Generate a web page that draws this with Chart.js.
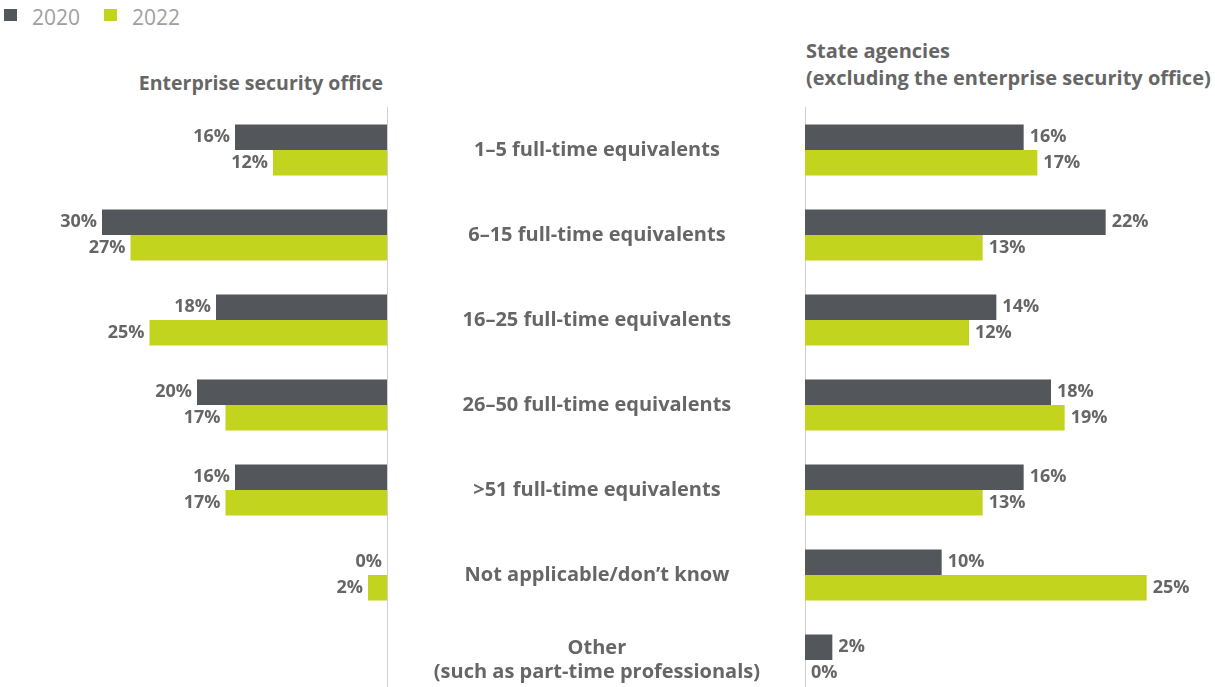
<!DOCTYPE html>
<html>
<head>
<meta charset="utf-8">
<script src="https://cdn.jsdelivr.net/npm/chart.js@4"></script>
<style>
  body { margin: 0; background: #fff; overflow: hidden; font-family: "Open Sans", sans-serif; }
  #wrap { position: relative; width: 1215px; height: 687px; overflow: hidden; }
  .box { position: absolute; }
  .legend { position: absolute; top: 2px; left: 4px; font-size: 21px; line-height: 30px; color: #a0a0a0; display: flex; gap: 24px; }
  .legend span { display: inline-flex; align-items: center; }
  .legend i { display: inline-block; width: 13px; height: 12px; margin-right: 15px; margin-top: -4px; }
  .title { position: absolute; font-weight: 700; font-size: 19.5px; color: #666; line-height: 23px; }
</style>
</head>
<body>
<div id="wrap">
  <div class="legend">
    <span><i style="background:#53565a"></i>2020</span>
    <span><i style="background:#c3d41e"></i>2022</span>
  </div>
  <div class="title" style="right:832px;top:71px;text-align:right;">Enterprise security office</div>
  <div class="title" style="left:806px;top:37px;font-size:20px;line-height:27px;">State agencies<br>(excluding the enterprise security office)</div>
  <div class="box" style="left:0;top:0;width:390px;height:710px;"><canvas id="oficina"></canvas></div>
  <div class="box" style="left:390px;top:0;width:825px;height:710px;"><canvas id="agencias"></canvas></div>
</div>
<script>
/* ===================== DATOS ===================== */
const categorias = [
  "1–5 full-time equivalents",
  "6–15 full-time equivalents",
  "16–25 full-time equivalents",
  "26–50 full-time equivalents",
  ">51 full-time equivalents",
  "Not applicable/don’t know",
  ["Other", "(such as part-time professionals)"],
];
const oficina2020 = [16, 30, 18, 20, 16, 0, null];
const oficina2022 = [12, 27, 25, 17, 17, 2, null];
const agencias2020 = [16, 22, 14, 18, 16, 10, 2];
const agencias2022 = [17, 13, 12, 19, 13, 25, 0];

const GRIS = "#53565a";
const VERDE = "#c3d41e";
const TEXTO = "#666666";
const fuente = { family: "'Open Sans', sans-serif", size: 18 };

/* ===================== ETIQUETAS ===================== */
// dibuja el % al final de cada barra (sin plugin externo)
const etiquetas = {
  id: "etiquetas",
  afterDatasetsDraw(chart, args, opts) {
    const ctx = chart.ctx;
    ctx.save();
    ctx.font = `bold ${fuente.size}px ${fuente.family}`;
    ctx.fillStyle = TEXTO;
    ctx.textBaseline = "middle";
    chart.data.datasets.forEach((ds, i) => {
      chart.getDatasetMeta(i).data.forEach((el, j) => {
        const v = ds.data[j];
        if (v === null || v === undefined) return;
        if (opts.lado === "izq") {
          ctx.textAlign = "right";
          ctx.fillText(v + "%", el.x - 5, el.y);
        } else {
          ctx.textAlign = "left";
          ctx.fillText(v + "%", el.x + 6, el.y);
        }
      });
    });
    ctx.restore();
  },
};

function datasets(a, b) {
  return [
    { label: "2020", data: a, backgroundColor: GRIS, categoryPercentage: 0.6, barPercentage: 1 },
    { label: "2022", data: b, backgroundColor: VERDE, categoryPercentage: 0.6, barPercentage: 1 },
  ];
}

// quita el relleno que el eje agrega por las etiquetas
function sinRelleno(ancho) {
  return (s) => {
    s.width = ancho;
    s.paddingTop = 0;
    s.paddingBottom = 0;
  };
}

/* ===================== OFICINA (IZQ) ===================== */
new Chart(oficina, {
  type: "bar",
  data: { labels: categorias, datasets: datasets(oficina2020, oficina2022) },
  plugins: [etiquetas],
  options: {
    indexAxis: "y",
    responsive: true,
    maintainAspectRatio: false,
    animation: false,
    layout: { padding: { left: 7, right: 3, top: 107.5, bottom: 7.5 } },
    plugins: { legend: { display: false }, tooltip: { enabled: false }, etiquetas: { lado: "izq" } },
    scales: {
      x: { reverse: true, min: 0, max: 40, display: false },
      y: {
        position: "right",
        grid: { display: false },
        border: { display: true, color: "#cfcfcf", width: 1 },
        ticks: { display: false },
        afterFit: sinRelleno(0),
      },
    },
  },
});

/* ===================== AGENCIAS (DER) ===================== */
new Chart(agencias, {
  type: "bar",
  data: { labels: categorias, datasets: datasets(agencias2020, agencias2022) },
  plugins: [etiquetas],
  options: {
    indexAxis: "y",
    responsive: true,
    maintainAspectRatio: false,
    animation: false,
    layout: { padding: { left: 0, right: 0, top: 107.5, bottom: 7.5 } },
    plugins: { legend: { display: false }, tooltip: { enabled: false }, etiquetas: { lado: "der" } },
    scales: {
      x: { min: 0, max: 30, display: false },
      y: {
        position: "left",
        grid: { display: false, drawTicks: false },
        border: { display: true, color: "#cfcfcf", width: 1 },
        ticks: {
          color: TEXTO,
          font: { family: "'Open Sans', sans-serif", size: 20, weight: "bold", lineHeight: 1.2 },
          crossAlign: "center",
          padding: 45,
        },
        afterFit: sinRelleno(415),
      },
    },
  },
});
</script>
</body>
</html>
